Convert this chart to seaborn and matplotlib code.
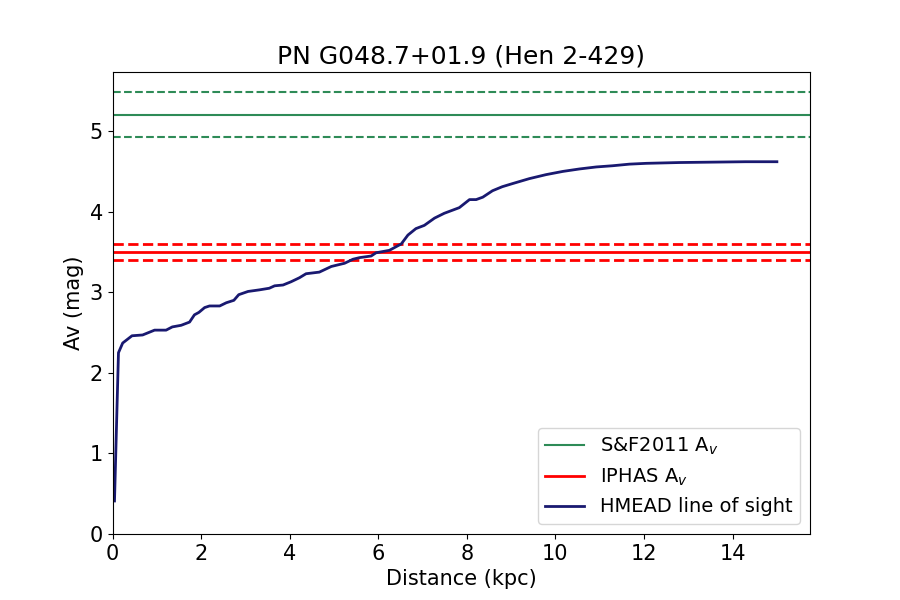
import matplotlib
matplotlib.use("Agg")
import matplotlib.pyplot as plt
import seaborn as sns
import pandas as pd

distance_kpc = [0.045, 0.135, 0.23, 0.44, 0.68, 0.95, 1.21, 1.35, 1.55, 1.74, 1.85, 1.95,
                2.08, 2.19, 2.42, 2.57, 2.74, 2.85, 3.06, 3.32, 3.54, 3.66, 3.85, 4.03,
                4.22, 4.37, 4.67, 4.94, 5.24, 5.43, 5.58, 5.84, 5.95, 6.25, 6.52, 6.67,
                6.85, 7.04, 7.27, 7.49, 7.83, 8.06, 8.21, 8.36, 8.58, 8.80, 9.04, 9.41,
                9.79, 10.17, 10.54, 10.92, 11.29, 11.67, 12.05, 12.8, 13.55, 14.3, 15.0]
av_mag = [0.41, 2.25, 2.37, 2.46, 2.47, 2.53, 2.53, 2.57, 2.59, 2.63, 2.72, 2.75,
          2.81, 2.83, 2.83, 2.87, 2.90, 2.97, 3.01, 3.03, 3.05, 3.08, 3.09, 3.13,
          3.18, 3.23, 3.25, 3.32, 3.36, 3.41, 3.43, 3.45, 3.49, 3.52, 3.60, 3.71,
          3.79, 3.83, 3.92, 3.98, 4.05, 4.15, 4.15, 4.18, 4.26, 4.31, 4.35, 4.41,
          4.46, 4.50, 4.53, 4.555, 4.57, 4.59, 4.60, 4.61, 4.615, 4.62, 4.62]

sf2011_av = 5.20
sf2011_err = [5.48, 4.93]
iphas_av = 3.50
iphas_err = [3.60, 3.40]

title = "PN G048.7+01.9 (Hen 2-429)"

df = pd.DataFrame({"Distance": distance_kpc, "Av": av_mag})

fig, ax = plt.subplots(figsize=(9, 6), dpi=100)

ax.axhline(sf2011_av, color="seagreen", lw=1.5, label=r"S&F2011 A$_v$")
for v in sf2011_err:
    ax.axhline(v, color="seagreen", lw=1.5, ls="--")
ax.axhline(iphas_av, color="red", lw=2, label=r"IPHAS A$_v$")
for v in iphas_err:
    ax.axhline(v, color="red", lw=2, ls="--")

sns.lineplot(data=df, x="Distance", y="Av", ax=ax, color="midnightblue", lw=2,
             label="HMEAD line of sight")

ax.set_xlim(left=0)
ax.set_ylim(bottom=0)
ax.set_title(title, fontsize=18)
ax.set_xlabel("Distance (kpc)", fontsize=15)
ax.set_ylabel("Av (mag)", fontsize=15)
ax.tick_params(labelsize=15)
ax.legend(loc="lower right", fontsize=14)

fig.savefig("out.png", dpi=100)
